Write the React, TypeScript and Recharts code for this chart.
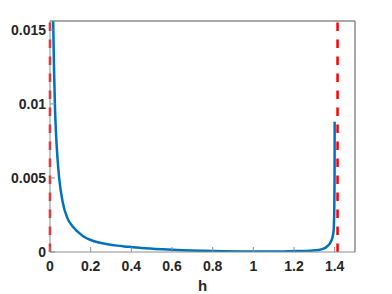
import React from "react";
import { LineChart, Line, XAxis, YAxis, ReferenceLine } from "recharts";

const hValues = [
  0.012, 0.0157, 0.02, 0.024, 0.03, 0.037, 0.045, 0.062, 0.086, 0.11, 0.136, 0.165, 0.2, 0.24, 0.284,
  0.33, 0.38, 0.45, 0.555, 0.65, 0.75, 0.85, 0.95, 1.05, 1.15, 1.22, 1.28, 1.32, 1.345, 1.361, 1.375,
  1.385, 1.391, 1.395, 1.398, 1.3995, 1.4,
];
const densityValues = [
  0.02, 0.0155, 0.0123, 0.01, 0.0079, 0.0063, 0.005, 0.0034, 0.00227, 0.00175, 0.00137, 0.00105, 0.00081,
  0.00064, 0.00052, 0.00043, 0.00036, 0.00027, 0.00018, 0.00012, 0.00008, 0.00005, 0.000035, 0.00003,
  0.00004, 0.00006, 0.00009, 0.00013, 0.00022, 0.00036, 0.00055, 0.00081, 0.0011, 0.00148, 0.0028, 0.005,
  0.0088,
];
const xTicks = [0, 0.2, 0.4, 0.6, 0.8, 1, 1.2, 1.4];
const yTicks = [0, 0.005, 0.01, 0.015];
const xDomain = [0, 1.5];
const yDomain = [0, 0.0156];
const boundaryLines = [0, Math.SQRT2];

const data = hValues.map((h, i) => ({ h, p: densityValues[i] }));

const axisColor = "#8c8c8c";
const tickStyle = { fontFamily: "Liberation Sans, Arial, sans-serif", fontSize: 14, fontWeight: 700, fill: "#262626" };

export default function App() {
  return (
    <div style={{ position: "absolute", left: 0, top: 0 }}>
      <LineChart width={392} height={294} data={data} margin={{ top: 21, right: 37, left: 0, bottom: 0 }}>
        <XAxis
          xAxisId="main"
          dataKey="h"
          type="number"
          domain={xDomain}
          ticks={xTicks}
          allowDataOverflow
          height={42}
          stroke={axisColor}
          tickSize={-5}
          tickMargin={14}
          tick={tickStyle}
          tickFormatter={(v: number) => String(v)}
          label={{ value: "h", position: "insideBottom", offset: 3, style: { ...tickStyle, fontSize: 15 } }}
        />
        <XAxis
          xAxisId="top"
          orientation="top"
          dataKey="h"
          type="number"
          domain={xDomain}
          ticks={xTicks}
          allowDataOverflow
          mirror
          stroke={axisColor}
          tickSize={5}
          tick={false}
        />
        <YAxis
          yAxisId="main"
          type="number"
          domain={yDomain}
          ticks={yTicks}
          allowDataOverflow
          width={50}
          stroke={axisColor}
          tickSize={-5}
          tickMargin={9}
          tick={tickStyle}
          tickFormatter={(v: number) => (v === 0 ? "0" : String(v))}
        />
        <YAxis
          yAxisId="right"
          orientation="right"
          type="number"
          domain={yDomain}
          ticks={yTicks}
          allowDataOverflow
          mirror
          stroke={axisColor}
          tickSize={5}
          tick={false}
        />
        <ReferenceLine xAxisId="top" yAxisId="right" y={yDomain[1]} stroke={axisColor} strokeWidth={1} ifOverflow="visible" />
        <ReferenceLine xAxisId="top" yAxisId="right" x={xDomain[1]} stroke={axisColor} strokeWidth={1} ifOverflow="visible" />
        {boundaryLines.map((x) => (
          <ReferenceLine
            key={x}
            x={x}
            xAxisId="main"
            yAxisId="main"
            stroke="#ff0000"
            strokeWidth={2.5}
            strokeDasharray="8.5 8.5"
          />
        ))}
        <Line
          xAxisId="main"
          yAxisId="main"
          type="monotone"
          dataKey="p"
          stroke="#0072BD"
          strokeWidth={2.5}
          dot={false}
          isAnimationActive={false}
        />
      </LineChart>
    </div>
  );
}
